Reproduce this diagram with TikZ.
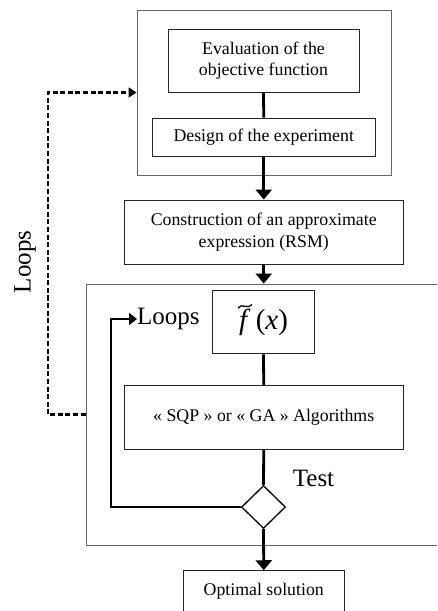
\documentclass[tikz,border=0pt]{standalone}
\usepackage{fontspec}
\setmainfont{Liberation Serif}
\usetikzlibrary{arrows.meta,shapes.geometric,calc}
\tikzset{
  box/.style={draw=black!85, line width=0.9pt, rectangle, align=center, inner sep=0pt,
    font=\fontsize{17.8}{21.7}\selectfont},
  outer/.style={draw=black!60, line width=0.9pt, rectangle, inner sep=0pt},
  conn/.style={line width=2.8pt, black},
  arr/.style={conn, -{Triangle[length=10pt,width=16pt]}},
  big/.style={font=\fontsize{25}{25}\selectfont, inner sep=0pt},
}
\begin{document}
\begin{tikzpicture}[x=1pt,y=-1pt]
\useasboundingbox (0,0) rectangle (437,611);
\clip (0,0) rectangle (437,611);
% outer boxes
\node[outer, minimum width=254pt, minimum height=165pt] (out1) at (264,92.5) {};
\node[outer, minimum width=380pt, minimum height=261pt] (out2) at (276,414.5) {};
% inner boxes
\node[box, minimum width=191pt, minimum height=63pt] (eval) at (263.5,60.5) {Evaluation of the\\objective function};
\node[box, minimum width=222.5pt, minimum height=38pt] (design) at (263.75,137) {Design of the experiment};
\node[box, minimum width=279.5pt, minimum height=64pt] (constr) at (263.75,232) {Construction of an approximate\\expression (RSM)};
\node[box, minimum width=101.6pt, minimum height=63.7pt, font=\fontsize{29}{29}\selectfont] (fx) at (263.5,322)
  {\itshape f\hspace{0.3em}\upshape(\itshape x\upshape)};
\draw[line width=1.3pt] ($(fx.center)+(-25.5,-14)$) .. controls +(3.5,-5.5) and +(-3.5,5.5) .. ($(fx.center)+(-11.5,-17.5)$);
\node[box, minimum width=279.5pt, minimum height=63.6pt] (algo) at (263.75,417.5) {« SQP » or « GA » Algorithms};
\node[draw=black, line width=1.3pt, diamond, minimum width=44pt, minimum height=43pt, inner sep=0pt] (dia) at (263.5,507) {};
\node[box, minimum width=161pt, minimum height=42pt] (opt) at (263.75,591.7) {Optimal solution};
% labels
\node[big] (test) at (313.5,478) {Test};
\node[big, anchor=west] (loopl) at (137,319) {Loops};
\node[big, rotate=90] (loopo) at (25,262) {Loops};
% connectors
\draw[conn] (eval.south) -- (design.north);
\draw[arr] (design.south) -- (constr.north);
\draw[arr] (constr.south) -- (constr.south |- out2.north);
\draw[conn] (fx.south) -- (algo.north);
\draw[conn] (algo.south) -- (dia.north);
\draw[arr] (dia.south) -- (opt.north);
\coordinate (lc) at (111,319);
\draw[conn, -{Triangle[length=8pt,width=12pt]}] (dia.west) -| (lc) -- (loopl.west);
\coordinate (dc) at (47.7,300);
\draw[line width=2.4pt, dash pattern=on 5pt off 2.6pt, -{Triangle[length=8pt,width=10pt]}] (out2.west) -| (dc) |- (out1.west);
\end{tikzpicture}
\end{document}
